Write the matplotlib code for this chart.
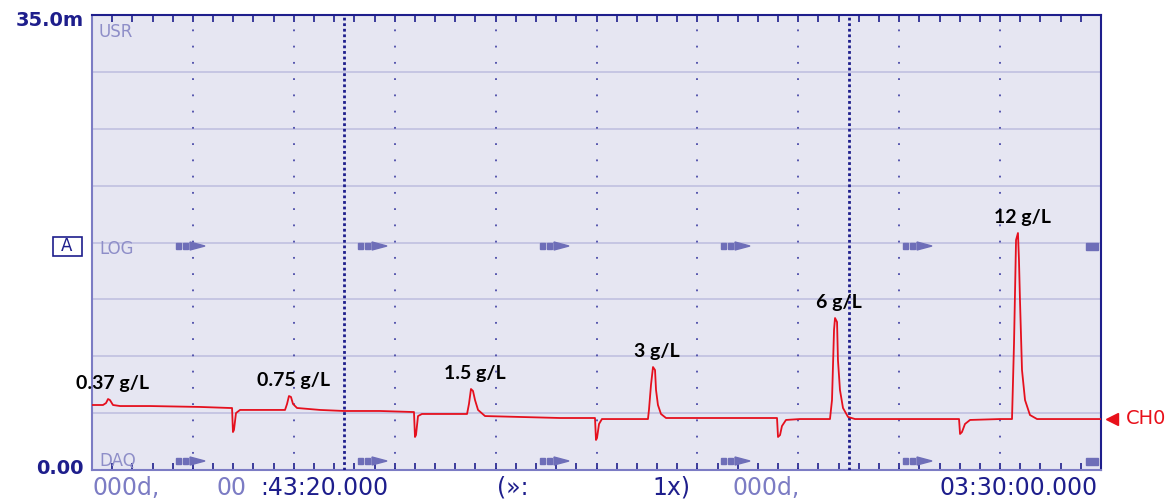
import numpy as np
import matplotlib
matplotlib.use("Agg")
import matplotlib.pyplot as plt

# ---- data (time in s from start 00:43:20, signal in mV) ----
t_s = [0, 109, 139, 159, 178, 208, 278, 575, 1070, 1368, 1388, 1397, 1407, 1427, 1467,
       1665, 1913, 1933, 1952, 1972, 1992, 2032, 2260, 2497, 2854, 3181, 3191, 3201,
       3211, 3231, 3270, 3647, 3717, 3736, 3756, 3776, 3796, 3826, 3895, 4242, 4638,
       4985, 4995, 5005, 5025, 5054, 5233, 5510, 5520, 5540, 5560, 5580, 5590, 5609,
       5639, 5689, 6026, 6779, 6789, 6799, 6819, 6838, 6878, 7017, 7314, 7334, 7354,
       7364, 7384, 7393, 7413, 7443, 7493, 7562, 8008, 8583, 8593, 8603, 8622, 8652,
       8702, 8999, 9118, 9138, 9158, 9177, 9187, 9197, 9217, 9247, 9296, 9366, 10000]
v_mV = [5.00, 5.00, 5.15, 5.46, 5.38, 5.00, 4.92, 4.92, 4.85, 4.77, 4.77, 2.92, 3.08,
        4.38, 4.62, 4.62, 4.62, 5.08, 5.69, 5.62, 5.08, 4.77, 4.62, 4.54, 4.54, 4.46,
        4.46, 2.54, 2.69, 4.15, 4.31, 4.31, 4.31, 5.08, 6.23, 6.08, 5.38, 4.62, 4.15,
        4.08, 4.00, 4.00, 2.31, 2.46, 3.54, 3.92, 3.92, 3.92, 4.62, 6.54, 7.92, 7.69,
        6.15, 5.00, 4.31, 4.00, 4.00, 4.00, 4.00, 2.54, 2.69, 3.38, 3.85, 3.92, 3.92,
        5.38, 10.77, 11.69, 11.38, 8.46, 6.15, 4.77, 4.08, 3.92, 3.92, 3.92, 3.92, 2.77,
        2.92, 3.54, 3.85, 3.92, 3.92, 9.77, 17.69, 18.23, 16.15, 13.08, 7.69, 5.38,
        4.23, 3.92, 3.92]

peak_labels = ["0.37 g/L", "0.75 g/L", "1.5 g/L", "3 g/L", "6 g/L", "12 g/L"]
peak_times = [159, 1952, 3756, 5560, 7364, 9177]

y_top = 35.0
x_end = 10000
n_xdiv = 10
n_ydiv = 8
marker_times = [2500, 7500]

W, H = 1173, 499
fig = plt.figure(figsize=(W / 100, H / 100), dpi=100)
fig.patch.set_facecolor("white")
ax = fig.add_axes([92 / W, 1 - 470 / H, 1009 / W, 455 / H])
ax.set_facecolor("#E6E6F2")
ax.set_xlim(0, x_end)
ax.set_ylim(0, y_top)

NAVY = "#1E1E8C"
LIGHT = "#7C7CC4"

# grid
for k in range(1, n_ydiv):
    ax.axhline(y_top / n_ydiv * k, color="#BDBDDF", lw=1.1, zorder=1)
for k in range(1, n_xdiv):
    ax.axvline(x_end / n_xdiv * k, color="#4A4AA8", lw=1.3,
               linestyle=(0, (1, 8)), zorder=1)
for m in marker_times:
    ax.axvline(m, color=NAVY, lw=2.0, linestyle=(0, (1, 1)), zorder=3)

# trace
ax.plot(t_s, v_mV, color="#E5101E", lw=1.3, zorder=4)

# peak labels
for lab, pt in zip(peak_labels, peak_times):
    pv = np.interp(pt, t_s, v_mV)
    ax.annotate(lab, (pt, pv), xytext=(3, 5), textcoords="offset points",
                ha="center", va="bottom", fontsize=14, fontweight="bold",
                family=["Lato", "DejaVu Sans"], color="black", zorder=5)

# ticks
ax.set_xticks(np.arange(0, x_end + 1, 200))
ax.tick_params(axis="x", direction="in", top=True, bottom=True, length=5,
               width=1.2, color=NAVY, labelbottom=False, labeltop=False)
ax.set_yticks([])
for side in ["top", "right"]:
    ax.spines[side].set_color(NAVY)
    ax.spines[side].set_linewidth(1.5)
for side in ["left", "bottom"]:
    ax.spines[side].set_color(LIGHT)
    ax.spines[side].set_linewidth(1.5)

def fx(px):
    return px / W

def fy(py):
    return 1 - py / H

# in-plot labels
for txt, py in [("USR", 32), ("LOG", 249), ("DAQ", 461)]:
    fig.text(fx(99), fy(py), txt, color="#8E8EC8", fontsize=12,
             va="center", ha="left")

# transport symbols
sym_x = [176, 358, 540, 721, 903]
for py in [246, 461]:
    for sx in sym_x:
        fig.patches.append(plt.Rectangle((fx(sx), fy(py + 3)), 5 / W, 6 / H,
                           transform=fig.transFigure, color="#6E6EB8"))
        fig.patches.append(plt.Rectangle((fx(sx + 7), fy(py + 3)), 5 / W, 6 / H,
                           transform=fig.transFigure, color="#6E6EB8"))
        fig.patches.append(plt.Polygon([(fx(sx + 14), fy(py - 4)),
                                        (fx(sx + 14), fy(py + 4)),
                                        (fx(sx + 29), fy(py))],
                           transform=fig.transFigure, color="#6E6EB8"))
    fig.patches.append(plt.Rectangle((fx(1086), fy(py + 4)), 12 / W, 7 / H,
                       transform=fig.transFigure, color="#6E6EB8"))

# Y range labels
fig.text(fx(84), fy(20), "35.0m", color=NAVY, fontsize=14, ha="right",
         va="center", fontweight="bold")
fig.text(fx(84), fy(468), "0.00", color=NAVY, fontsize=14, ha="right",
         va="center", fontweight="bold")

# "A" box
fig.patches.append(plt.Rectangle((fx(53), fy(256)), 29 / W, 19 / H,
                   transform=fig.transFigure, fc="white", ec=NAVY, lw=1.2))
fig.text(fx(67), fy(246), "A", color=NAVY, fontsize=12, ha="center", va="center")

# CH0 marker
last_v = v_mV[-1]
ax.plot([x_end + 110], [last_v], marker="<", color="#E8101A", markersize=9,
        clip_on=False, zorder=6)
fig.text(fx(1126), fy(419), "CH0", color="#E8101A", fontsize=14,
         ha="left", va="center")

# bottom time strip
segs = [("000d,", 92, LIGHT, "left"), ("00", 216, LIGHT, "left"),
        (":43:20.000", 260, NAVY, "left"), ("(»:", 497, NAVY, "left"),
        ("1x)", 690, NAVY, "right"), ("000d,", 733, LIGHT, "left"),
        ("03:30:00.000", 1098, NAVY, "right")]
for txt, px, col, ha in segs:
    fig.text(fx(px), fy(488), txt, color=col, fontsize=17, ha=ha, va="center")

fig.savefig("out.png", dpi=100, facecolor="white")
